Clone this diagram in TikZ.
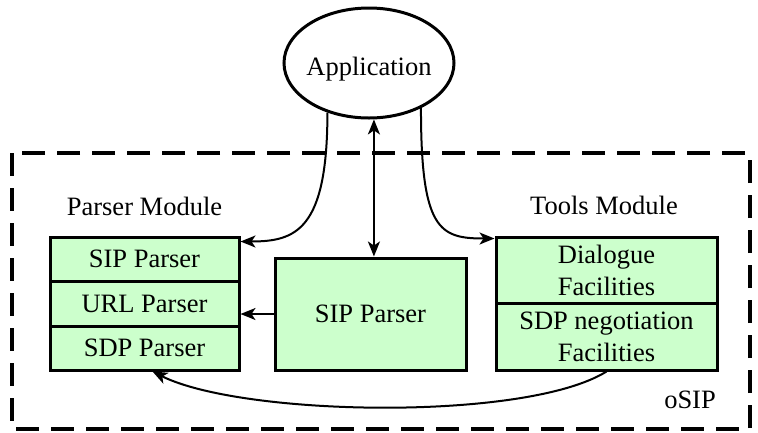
\documentclass[tikz,border=0pt]{standalone}
\usepackage{fontspec}
\setmainfont{Liberation Serif}
\usetikzlibrary{arrows.meta,shapes.geometric,calc}
\definecolor{boxgreen}{HTML}{CCFFCC}
\begin{document}
\begin{tikzpicture}[x=1pt,y=-1pt,
  every node/.style={font=\fontsize{26.5}{32}\selectfont},
  part/.style={draw,line width=3pt,fill=boxgreen,inner sep=0pt,align=center},
  tip/.style={Stealth[length=15pt,width=12pt,inset=4pt]},
  link/.style={line width=2pt,-{Stealth[length=15pt,width=12pt,inset=4pt]}},
  dbllink/.style={line width=2pt,{Stealth[length=15pt,width=12pt,inset=4pt]}-{Stealth[length=15pt,width=12pt,inset=4pt]}},
  caption/.style={anchor=base,inner sep=0pt}]
\useasboundingbox (0,0) rectangle (758,432);

% oSIP frame
\draw[line width=3.5pt,dash pattern=on 23pt off 12pt] (12,153) rectangle (750,429);

% application
\node[draw,ellipse,line width=3pt,minimum width=170pt,minimum height=110pt,inner sep=0pt] (app) at (369,63) {};
\node[caption] (apptext) at (369,75) {Application};

% parser module
\node[caption] (pmlabel) at (144.5,215) {Parser Module};
\node[part,minimum width=189pt,minimum height=44pt] (sip) at (144.5,259) {SIP Parser};
\node[part,minimum width=189pt,minimum height=45pt] (url) at (144.5,303.5) {URL Parser};
\node[part,minimum width=189pt,minimum height=44pt] (sdp) at (144.5,348) {SDP Parser};

% central parser
\node[part,minimum width=191pt,minimum height=112pt] (mid) at (370.5,314) {SIP Parser};

% tools module
\node[caption] (tmlabel) at (604,214) {Tools Module};
\node[part,minimum width=221pt,minimum height=66pt] (dlg) at (606.5,270) {Dialogue\\Facilities};
\node[part,minimum width=221pt,minimum height=67pt] (neg) at (606.5,336.5) {SDP negotiation\\Facilities};

\node[caption,anchor=base east] (osip) at (716,408) {oSIP};

% connectors
\coordinate (sipin) at ($(sip.north east)+(0,6)$);
\coordinate (dlgin) at ($(dlg.north west)+(0,3)$);
\coordinate (sdpin) at ($(sdp.south)+(8,0)$);

\draw[link] (app.230) .. controls ($(app.230)+(0,118)$) and ($(sipin)+(55,0)$) .. (sipin);
\draw[link] (app.319) .. controls ($(app.319)+(0,122)$) and ($(dlgin)+(-55,0)$) .. (dlgin);
\draw[dbllink] (app.275) -- (app.275 |- mid.north);
\draw[link] (mid.west) -- (mid.west -| url.east);
\draw[link] (neg.south) .. controls ($(neg.south)+(-80,50)$) and ($(sdpin)+(90,45)$) .. (sdpin);
\end{tikzpicture}
\end{document}
